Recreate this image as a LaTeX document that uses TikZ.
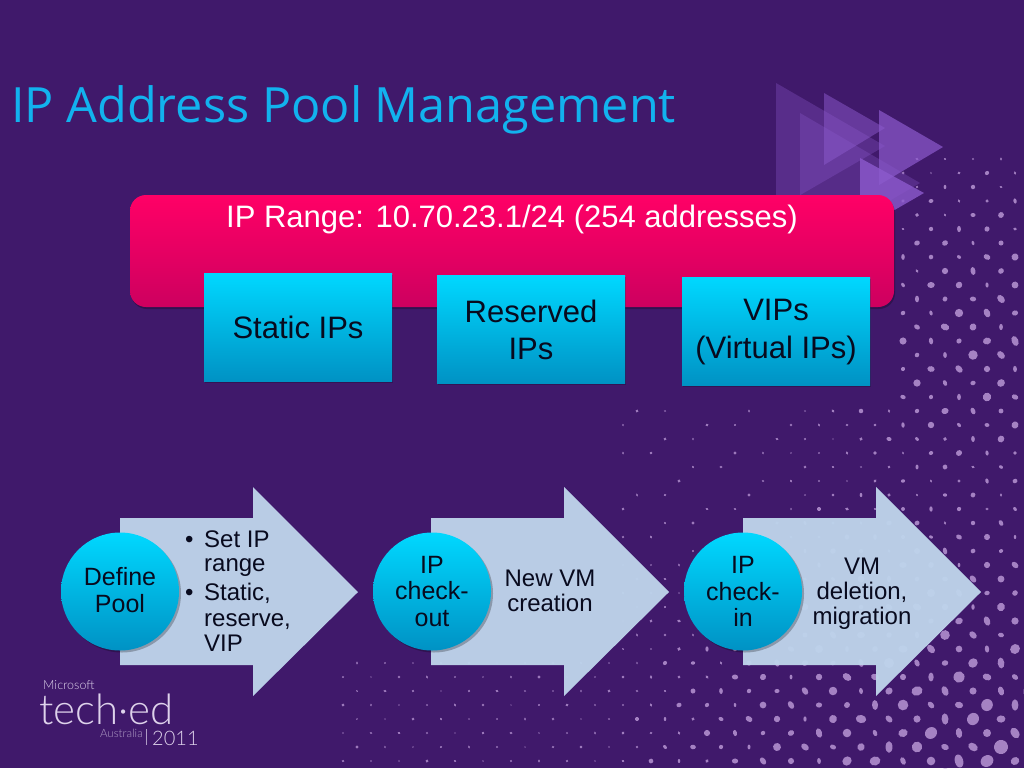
\documentclass[tikz,border=0pt]{standalone}
\usepackage{fontspec}
\setmainfont{Liberation Sans}
\newfontfamily\titlefont{Open Sans}
\newfontfamily\logofont{Lato Light}
\usetikzlibrary{shadows}
\definecolor{bgc}{RGB}{64,25,107}
\definecolor{dotc}{RGB}{165,130,195}
\definecolor{triC}{RGB}{140,90,205}
\definecolor{titlec}{RGB}{18,178,238}
\definecolor{pinkt}{RGB}{255,0,102}
\definecolor{pinkb}{RGB}{205,0,95}
\definecolor{cyant}{RGB}{0,216,255}
\definecolor{cyanb}{RGB}{0,146,196}
\definecolor{arrowc}{RGB}{190,212,235}
\definecolor{inkc}{RGB}{8,10,30}
\definecolor{logoc}{RGB}{222,210,235}
\tikzset{
  x=1pt,y=-1pt,
  pinkbox/.style={rectangle,rounded corners=16pt,top color=pinkt,bottom color=pinkb,draw=none,minimum width=764pt,minimum height=112pt,inner sep=0pt,drop shadow={shadow xshift=1pt,shadow yshift=-2pt,opacity=.25,fill=black}},
  bluebox/.style={rectangle,top color=cyant,bottom color=cyanb,draw=none,minimum width=188pt,minimum height=108pt,inner sep=0pt,align=center,text=inkc,font=\fontsize{31}{37}\selectfont,drop shadow={shadow xshift=1pt,shadow yshift=-1.5pt,opacity=.2,fill=black}},
  boxlabel/.style={inner sep=0pt,align=center,text=inkc,font=\fontsize{31}{38}\selectfont},
  ball/.style={circle,top color=cyant,bottom color=cyanb,draw=none,minimum size=118pt,inner sep=0pt,align=center,text=inkc,font=\fontsize{25}{26.5}\selectfont,drop shadow={shadow xshift=2pt,shadow yshift=-2pt,opacity=.25,fill=black}},
  balllabel/.style={inner sep=0pt,align=center,text=inkc,font=\fontsize{25}{27}\selectfont},
  arrowtext/.style={align=center,text=inkc,inner sep=0pt,font=\fontsize{24}{25}\selectfont},
  bullettext/.style={anchor=base west,text=inkc,inner sep=0pt,font=\fontsize{24}{25}\selectfont},
  tri/.style={fill=triC,draw=none}
}
\begin{document}
\begin{tikzpicture}
\useasboundingbox (0,0) rectangle (1024,768);
\fill[bgc] (0,0) rectangle (1024,768);
% dotted texture
\foreach \i in {-40,...,9}{\foreach \j in {-42,...,3}{
  \pgfmathtruncatemacro\oddp{mod(abs(\i+\j),2)}
  \ifnum\oddp=0
    \pgfmathsetmacro\px{903+14*\i}
    \pgfmathsetmacro\py{733+14*\j}
    \pgfmathsetmacro\rndc{sin(\i*131+\j*59+7)}
    \pgfmathtruncatemacro\inr{((\px>=340)&&(\py>=650))||((\px>=620)&&(\py>=405)&&((\px>=790)||(\py>=560)||(\rndc>0)))||((\px>=900)&&(\py>=150))?1:0}
    \ifnum\inr=1
      \pgfmathsetmacro\rnd{sin(\i*47+\j*113)}
      \pgfmathsetmacro\rndb{sin(\i*71-\j*29+11)}
      \pgfmathsetmacro\dista{veclen((\px-1000)/100,(\py-775)/100*1.2)}
      \pgfmathsetmacro\distb{veclen((\px-1000)/100,(\py-340)/100)}
      \pgfmathsetmacro\rr{max(1.35+5*max(0,1-\dista/4),1.35+3.2*max(0,1-\distb/2))*(.95+.25*\rnd)}
      \pgfmathsetmacro\ry{\rr*(.8+.2*\rndb)}
      \pgfmathsetmacro\op{min(1,.6+\rr/5)}
      \pgfmathsetmacro\rot{90*\rndb}
      \fill[dotc,fill opacity=\op] (\px,\py) ellipse [x radius=\rr,y radius=\ry,rotate=\rot];
    \fi
  \fi
}}
% play triangles
\fill[tri,fill opacity=.32] (776,83) -- (885,146) -- (776,209) -- cycle;
\fill[tri,fill opacity=.30] (800,113) -- (920,183) -- (800,253) -- cycle;
\fill[tri,fill opacity=.50] (824,93) -- (885,128) -- (824,165) -- cycle;
\fill[tri,fill opacity=.70] (879,110) -- (943,147) -- (879,185) -- cycle;
\fill[tri,fill opacity=.80] (860,158) -- (924,193) -- (860,230) -- cycle;
% title
\node (title) [anchor=base west,inner sep=0pt,text=titlec,font=\titlefont\fontsize{48.6}{60}\selectfont] at (11,122) {IP Address Pool Management};
% range bar and boxes
\node (bar) [pinkbox] at (512,251) {};
\node (rangetext) [anchor=base,inner sep=0pt,text=white,font=\fontsize{31}{37}\selectfont] at (512,227) {IP Range: 10.70.23.1/24 (254 addresses)};
\node (static) [bluebox] at (298,327) {Static IPs};
\node (reserved) [bluebox] at (531,329.5) {Reserved\\IPs};
\node (vips) [bluebox] at (776,331) {};
\node (vipstext) [boxlabel] at (776,332.5) {VIPs\\(Virtual IPs)};
% process arrows
\foreach \ax in {120,431,743}{
  \fill[arrowc,fill opacity=.96] (\ax,518) -- ({\ax+133},518) -- ({\ax+133},487) -- ({\ax+238},592) -- ({\ax+133},696) -- ({\ax+133},665) -- (\ax,665) -- cycle;
}
\node (define) [ball] at (120,591.5) {};
\node (definetext) [balllabel] at (120,590) {Define\\Pool};
\node (checkout) [ball] at (432,591.5) {IP\\check-\\out};
\node (checkin) [ball] at (743,591.5) {IP\\check-\\in};
% arrow texts
\node (b1) [bullettext] at (185,547) {•};
\node (t1) [bullettext] at (204,547) {Set IP};
\node (t2) [bullettext] at (204,571) {range};
\node (b2) [bullettext] at (185,600) {•};
\node (t3) [bullettext] at (204,600) {Static,};
\node (t4) [bullettext] at (204,626) {reserve,};
\node (t5) [bullettext] at (204,651) {VIP};
\node (newvm) [arrowtext] at (550,591) {New VM\\creation};
\node (vmdel) [arrowtext] at (862,594) {VM\\deletion,\\migration};
% logo
\node (ms) [anchor=base west,inner sep=0pt,text=logoc,font=\logofont\fontsize{12.5}{14}\selectfont] at (43,689) {Microsoft};
\node (teched) [anchor=base west,inner sep=0pt,text=logoc,font=\logofont\fontsize{42}{50}\selectfont] at (39,724) {tech·ed};
\node (aus) [anchor=base east,inner sep=0pt,text=logoc!70!bgc,font=\logofont\fontsize{11.5}{14}\selectfont] at (143,737) {Australia};
\draw[logoc!70!bgc,line width=.7pt] (146,729) -- (146,745);
\node (yr) [anchor=base west,inner sep=0pt,text=logoc,font=\logofont\fontsize{20}{24}\selectfont] at (152,745) {2011};
\end{tikzpicture}
\end{document}
